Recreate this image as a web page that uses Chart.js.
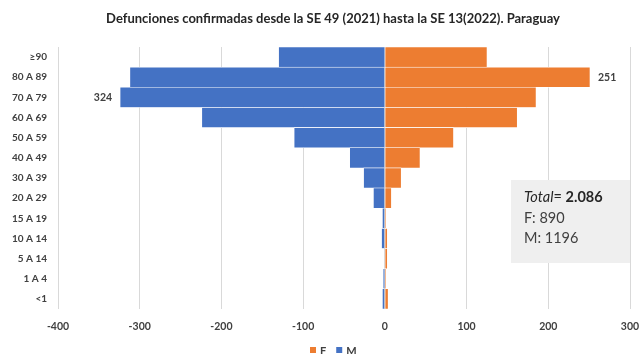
<!DOCTYPE html>
<html>
<head>
<meta charset="utf-8">
<script src="https://cdn.jsdelivr.net/npm/chart.js@4/dist/chart.umd.min.js"></script>
<style>
  html, body { margin: 0; padding: 0; background: #fff; overflow: hidden; }
  #wrap { width: 639px; height: 354px; position: relative; }
</style>
</head>
<body>
<div id="wrap"><canvas id="c" width="639" height="354"></canvas></div>
<script>
// Age groups, oldest at the top
const ageGroups = ['≥90', '80 A 89', '70 A 79', '60 A 69', '50 A 59', '40 A 49', '30 A 39',
                   '20 A 29', '15 A 19', '10 A 14', '5 A 14', '1 A 4', '<1'];
// Deaths by sex (counts)
const femaleDeaths = [125, 251, 185, 162, 84, 43, 20, 8, 1, 3, 3, 1, 4];
const maleDeaths   = [130, 312, 324, 224, 111, 43, 26, 14, 3, 4, 0, 2, 3];
const xTicks = [-400, -300, -200, -100, 0, 100, 200, 300];
const titleText = 'Defunciones confirmadas desde la SE 49 (2021) hasta la SE 13(2022). Paraguay';
const summaryLines = ['F: 890', 'M: 1196'];
const totalValue = '2.086';

const ORANGE = '#ED7D31', BLUE = '#4472C4';
const FONT = 'Lato, "Open Sans", sans-serif';
const TEXT = '#404040';

// Title, value labels, summary box and legend
const decorations = {
  id: 'decorations',
  afterDraw(chart) {
    const ctx = chart.ctx;
    const x = chart.scales.x, y = chart.scales.y;
    ctx.save();
    // title
    ctx.fillStyle = '#262626';
    ctx.font = 'bold 13px ' + FONT;
    ctx.textAlign = 'center';
    ctx.textBaseline = 'middle';
    ctx.fillText(titleText, 333, 19);

    // value labels for the largest bar of each sex
    ctx.font = 'bold 10.5px ' + FONT;
    ctx.fillStyle = TEXT;
    const mi = maleDeaths.indexOf(Math.max(...maleDeaths));
    ctx.textAlign = 'right';
    ctx.fillText(String(maleDeaths[mi]), x.getPixelForValue(-maleDeaths[mi]) - 8, y.getPixelForValue(mi));
    const fi = femaleDeaths.indexOf(Math.max(...femaleDeaths));
    ctx.textAlign = 'left';
    ctx.fillText(String(femaleDeaths[fi]), x.getPixelForValue(femaleDeaths[fi]) + 8, y.getPixelForValue(fi));

    // summary box
    ctx.fillStyle = '#EFEFEF';
    ctx.fillRect(511, 180, 119, 83);
    ctx.textAlign = 'left';
    ctx.textBaseline = 'middle';
    ctx.fillStyle = '#262626';
    let tx = 524;
    ctx.font = 'italic 14.5px ' + FONT;
    ctx.fillText('Total', tx, 197);
    tx += ctx.measureText('Total').width;
    ctx.font = '14.5px ' + FONT;
    ctx.fillText('= ', tx, 197);
    tx += ctx.measureText('= ').width;
    ctx.font = 'bold 14.5px ' + FONT;
    ctx.fillText(totalValue, tx, 197);
    ctx.font = '14.5px ' + FONT;
    ctx.fillStyle = '#404040';
    summaryLines.forEach((s, i) => ctx.fillText(s, 524, 218 + i * 20));

    // legend
    const items = chart.data.datasets;
    let lx = 310;
    ctx.font = 'bold 11px ' + FONT;
    items.forEach(ds => {
      ctx.fillStyle = ds.backgroundColor;
      ctx.fillRect(lx, 347, 6, 6);
      ctx.fillStyle = TEXT;
      ctx.fillText(ds.label, lx + 10, 351);
      lx += 10 + ctx.measureText(ds.label).width + 10;
    });
    ctx.restore();
  }
};

new Chart(document.getElementById('c'), {
  type: 'bar',
  data: {
    labels: ageGroups,
    datasets: [
      { label: 'F', data: femaleDeaths, backgroundColor: ORANGE, borderColor: '#ffffff', borderWidth: 0.6,
        barPercentage: 1, categoryPercentage: 1 },
      { label: 'M', data: maleDeaths.map(v => -v), backgroundColor: BLUE, borderColor: '#ffffff', borderWidth: 0.6,
        barPercentage: 1, categoryPercentage: 1 }
    ]
  },
  options: {
    indexAxis: 'y',
    responsive: false,
    animation: false,
    layout: { padding: { top: 47, right: 0, bottom: 0, left: 0 } },
    plugins: { legend: { display: false }, tooltip: { enabled: false } },
    scales: {
      x: {
        stacked: true,
        min: -400, max: 300,
        afterBuildTicks: s => { s.ticks = xTicks.map(v => ({ value: v })); },
        afterFit: s => { s.height = 45; s.paddingRight = 9; s.paddingLeft = 0; },
        grid: { color: '#D9D9D9', lineWidth: 1, drawTicks: false },
        border: { display: false },
        ticks: { color: TEXT, font: { family: FONT, size: 10.5, weight: 'bold' }, padding: 11 }
      },
      y: {
        stacked: true,
        afterFit: s => { s.width = 58; },
        grid: { display: false, drawTicks: false },
        border: { display: false },
        ticks: { color: TEXT, font: { family: FONT, size: 10, weight: 'bold' }, padding: 11 }
      }
    }
  },
  plugins: [decorations]
});
</script>
</body>
</html>
